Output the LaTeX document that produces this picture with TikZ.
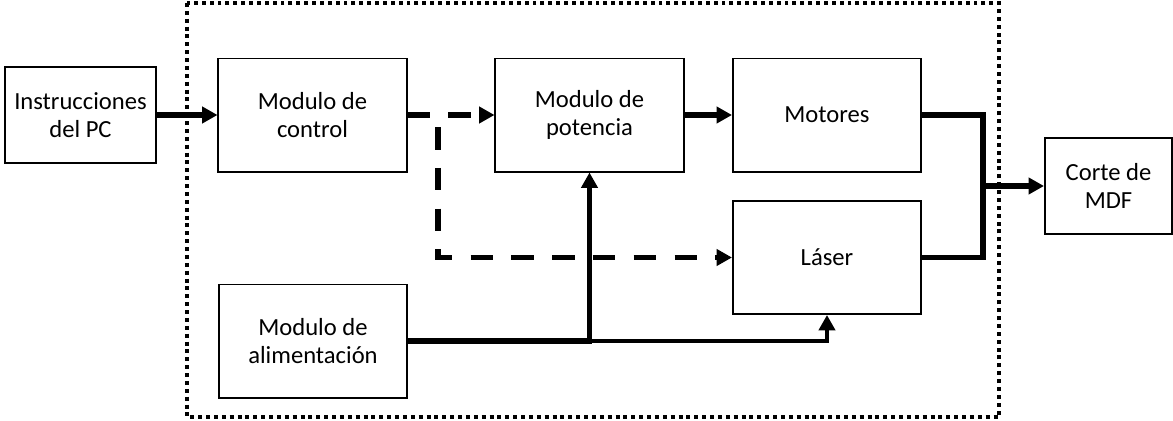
\documentclass[tikz,border=0pt]{standalone}
\usepackage{fontspec}
\setmainfont{Carlito}
\usetikzlibrary{arrows.meta,positioning,calc}

\begin{document}
\begin{tikzpicture}[x=0.025cm, y=-0.025cm,
    font=\fontsize{17.5}{20}\selectfont,
    >={Triangle[length=11pt, width=11.5pt]},
    blk/.style={rectangle, draw, line width=1.4pt, align=center,
      minimum width=4.7cm, minimum height=2.825cm, inner sep=2pt},
    term/.style={blk, minimum width=3.775cm, minimum height=2.4cm},
    thk/.style={->, line width=3.6pt},
    thn/.style={->, line width=2.8pt},
    dsh/.style={->, line width=3.6pt, dash pattern=on 16pt off 13pt}]
    \useasboundingbox (0,0) rectangle (1173,421);
    % frame of the machine
    \draw[line width=2.8pt, dash pattern=on 2.8pt off 2.8pt] (187,3) rectangle (999,417);
    % blocks
    \node[term] (instr) at (80.5,115) {Instrucciones\\del PC};
    \node[blk] (ctrl) at (312.5,115) {Modulo de\\control};
    \node[blk] (pot) at (589.5,115) {Modulo de\\potencia};
    \node[blk] (mot) at (827,115) {Motores};
    \node[blk] (laser) at (827,257.5) {Láser};
    \node[blk] (alim) at (313,341) {Modulo de\\alimentación};
    \node[term, minimum width=3.175cm] (corte) at (1108.5,186) {Corte de\\MDF};
    % signals
    \draw[thk] (instr) -- (ctrl);
    \coordinate (br) at (438,115);
    \draw[dsh] (ctrl.east) -- (pot.west);
    \draw[dsh] ($(br)+(0,12)$) |- (laser.west);
    \draw[thk] (pot) -- (mot);
    % power supply
    \draw[thk] (alim.east) -| (pot.south);
    \draw[thn] (alim.east -| pot.south) -| (laser.south);
    % outputs
    \coordinate (jn) at (983,186);
    \draw[line width=3.6pt] (mot.east) -| (jn) |- (laser.east);
    \draw[thk] (jn) -- (corte.west);
\end{tikzpicture}
\end{document}
